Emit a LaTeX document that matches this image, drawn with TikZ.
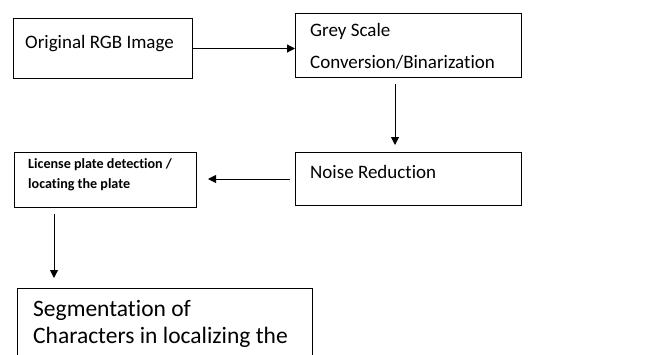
\documentclass[tikz,border=0pt]{standalone}
\usepackage{fontspec}
\setmainfont[Ligatures=NoCommon]{Carlito}
\usetikzlibrary{calc,arrows.meta}
\begin{document}
\begin{tikzpicture}[x=1pt,y=-1pt,
  box/.style={draw, line width=1pt, rectangle, inner sep=0pt, anchor=north west},
  lbl/.style={anchor=base west, inner sep=0pt, font=\fontsize{19}{21}\selectfont},
  big/.style={anchor=base west, inner sep=0pt, font=\fontsize{23.5}{26}\selectfont},
  small/.style={anchor=base west, inner sep=0pt, font=\bfseries\fontsize{14.1}{16}\selectfont},
  arr/.style={-{Triangle[length=8pt,width=8pt]}, line width=1pt}]
\useasboundingbox (0,0) rectangle (653,354);
\clip (0,0) rectangle (653,354);
\node[box, minimum width=179pt, minimum height=60pt] (b1) at (13,18) {};
\node[box, minimum width=226pt, minimum height=64pt] (b2) at (295,13) {};
\node[box, minimum width=226pt, minimum height=53pt] (b3) at (295,152) {};
\node[box, minimum width=182pt, minimum height=55pt] (b4) at (14,152) {};
\node[box, minimum width=295pt, minimum height=100pt] (b5) at (17,288) {};
\node[lbl] (t1) at ($(b1.north west)+(12,30)$) {Original RGB Image};
\node[lbl] (t2a) at ($(b2.north west)+(15,23)$) {Grey Scale};
\node[lbl] (t2b) at ($(b2.north west)+(15,55)$) {Conversion/Binarization};
\node[lbl] (t3) at ($(b3.north west)+(15,26)$) {Noise Reduction};
\node[small] (t4a) at ($(b4.north west)+(14,16)$) {License plate detection /};
\node[small] (t4b) at ($(b4.north west)+(14,36)$) {locating the plate};
\node[big] (t5a) at ($(b5.north west)+(16,28)$) {Segmentation of};
\node[big] (t5b) at ($(b5.north west)+(16,55)$) {Characters in localizing the};
\draw[arr] (b1.east) -- (b1.east -| b2.west);
\draw[arr, shorten <=6pt, shorten >=7pt] ($(b2.south west)+(100,0)$) -- ($(b3.north west)+(100,0)$);
\draw[arr, shorten <=5pt, shorten >=11pt] (b3.west) -- (b3.west -| b4.east);
\draw[arr, shorten <=6pt, shorten >=10pt] ($(b4.south west)+(40,0)$) -- ($(b5.north west)+(37,0)$);
\end{tikzpicture}
\end{document}
